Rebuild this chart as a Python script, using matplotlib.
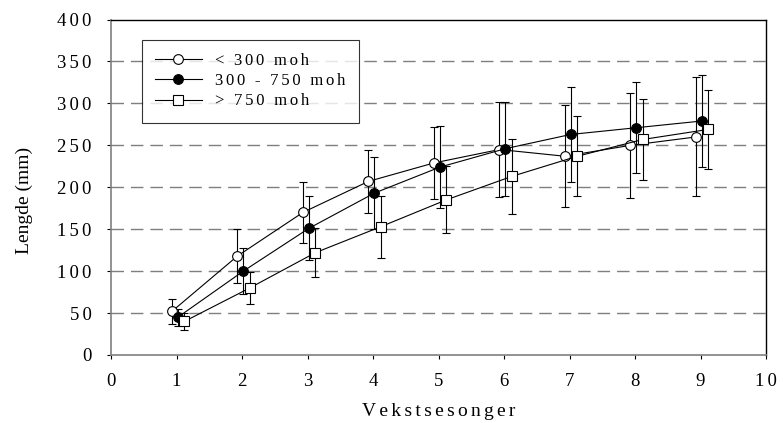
import numpy as np
import matplotlib.pyplot as plt
from matplotlib.lines import Line2D

plt.rcParams['font.family'] = ['Liberation Serif', 'DejaVu Serif']

seasons = [1, 2, 3, 4, 5, 6, 7, 8, 9]

low_mean = [52, 118, 170, 207, 229, 245, 237, 250, 260]
low_err = [15, 32, 36, 38, 43, 57, 61, 63, 71]

mid_mean = [45, 100, 151, 193, 224, 246, 263, 271, 279]
mid_err = [10, 27, 38, 43, 49, 56, 57, 54, 55]

high_mean = [40, 80, 122, 153, 185, 213, 237, 257, 269]
high_err = [10, 19, 29, 37, 40, 45, 48, 48, 47]

labels = ["< 300 moh", "300 - 750 moh", "> 750 moh"]
y_ticks = [0, 50, 100, 150, 200, 250, 300, 350, 400]
x_ticks = [0, 1, 2, 3, 4, 5, 6, 7, 8, 9, 10]

HAIR = "\u2006"


def spaced(s, sep=HAIR):
    # the original chart draws text with a little extra letter spacing
    return sep.join(s)


fig = plt.figure(figsize=(7.83, 4.23), dpi=100)
ax = fig.add_axes([0.1418, 0.1608, 0.8365, 0.793])

for yv in y_ticks[1:-1]:
    ax.axhline(yv, color="#7f7f7f", lw=1.0, ls=(0, (9, 5)), zorder=0)

x = np.array(seasons, dtype=float)
series = [
    (x - 0.07, low_mean, low_err, "o", "white"),
    (x + 0.02, mid_mean, mid_err, "o", "black"),
    (x + 0.12, high_mean, high_err, "s", "white"),
]
handles = []
for (xs, m, e, mk, fc), lab in zip(series, labels):
    ms = 7 if mk == "o" else 6.5
    ax.errorbar(xs, m, yerr=e, color="black", lw=0.8, elinewidth=0.8,
                capsize=3, capthick=0.8, marker=mk, markersize=ms,
                markerfacecolor=fc, markeredgecolor="black", markeredgewidth=0.8)
    handles.append(Line2D([], [], color="black", lw=0.8, marker=mk, markersize=ms,
                          markerfacecolor=fc, markeredgecolor="black",
                          markeredgewidth=0.8, label=spaced(lab)))

ax.set_xlim(0, 10)
ax.set_ylim(0, 400)
ax.set_xticks(x_ticks)
ax.set_xticklabels([spaced(str(t)) for t in x_ticks], fontsize=13.5)
ax.set_yticks(y_ticks)
ax.set_yticklabels([spaced(str(t)) for t in y_ticks], fontsize=13.5)
ax.tick_params(direction="out", length=3, width=0.8)
ax.tick_params(axis="x", pad=10)
ax.tick_params(axis="y", pad=11)

for side in ["top", "right"]:
    ax.spines[side].set_color("black")
    ax.spines[side].set_linewidth(1.0)
for side in ["left", "bottom"]:
    ax.spines[side].set_color("#7f7f7f")
    ax.spines[side].set_linewidth(1.2)

ax.set_xlabel(spaced("Vekstsesonger"), fontsize=14, labelpad=9)
ax.set_ylabel("Lengde (mm)", fontsize=14)
ax.yaxis.set_label_coords(-0.119, 0.46)

leg = ax.legend(handles=handles, loc="upper left", bbox_to_anchor=(0.047, 0.94),
                fontsize=12, frameon=True, fancybox=False, handlelength=2.8,
                labelspacing=0.25, borderpad=0.8, handletextpad=0.8,
                borderaxespad=0)
leg.get_frame().set_edgecolor("black")
leg.get_frame().set_linewidth(0.8)

plt.savefig("out.png", dpi=100)
